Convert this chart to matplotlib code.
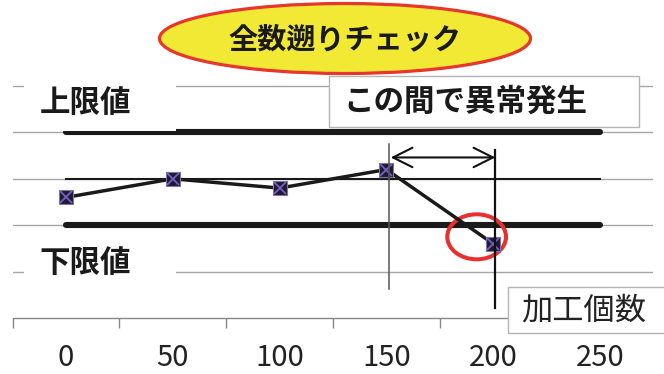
import matplotlib
matplotlib.use("Agg")
import matplotlib.pyplot as plt
from matplotlib.patches import Ellipse, Rectangle
import numpy as np

plt.rcParams['font.family'] = ['Noto Sans CJK JP', 'DejaVu Sans']

# Lot counts on the category axis and the measured values per lot
categories = ['0', '50', '100', '150', '200', '250']
measured = [2.6, 3.0, 2.8, 3.2, 1.6]
upper_limit = [4, 4, 4, 4, 4, 4]
center_line = [3, 3, 3, 3, 3, 3]
lower_limit = [2, 2, 2, 2, 2, 2]
grid_levels = [1, 2, 3, 4, 5]

W, H = 664, 374
fig = plt.figure(figsize=(W / 100, H / 100), dpi=100)


def fx(px):
    return px / W


def fy(py):
    return 1 - py / H


# plot area: value 0 sits on the axis line, one unit = 46.4 px
unit = 46.4
y_top = 5.5
ax = fig.add_axes([fx(12.6), fy(318), fx(653.4) - fx(12.6), unit * y_top / H])
x = np.arange(len(categories))
ax.set_xlim(-0.5, len(categories) - 0.5)
ax.set_ylim(0, y_top)

ax.set_yticks(grid_levels)
ax.yaxis.grid(True, color='#a6a6a6', lw=1.0)
ax.set_axisbelow(True)
ax.tick_params(axis='y', left=False, labelleft=False)

ax.set_xticks(x)
ax.set_xticklabels(categories, fontsize=21, color='#222222')
ax.set_xticks(np.arange(-0.5, len(categories)), minor=True)
ax.tick_params(axis='x', which='major', length=0, pad=18)
ax.tick_params(axis='x', which='minor', length=7.5, width=1.0, color='#888888')
for s in ['top', 'right', 'left']:
    ax.spines[s].set_visible(False)
ax.spines['bottom'].set_color('#888888')
ax.spines['bottom'].set_linewidth(1.0)

# control limits and centre line
ax.plot(x, upper_limit, color='#1a1a1a', lw=4.4, solid_capstyle='round', zorder=2)
ax.plot(x, lower_limit, color='#1a1a1a', lw=4.4, solid_capstyle='round', zorder=2)
ax.plot(x, center_line, color='#1a1a1a', lw=1.5, zorder=2)

# red ring around the out-of-limit lot
ring = Ellipse((3.845, 1.75), 0.55, 0.97, fill=False, ec='#e8312f', lw=2.9, zorder=3)
ax.add_patch(ring)

# measured series
xm = x[:len(measured)]
ax.plot(xm, measured, color='#1a1a1a', lw=2.5, zorder=4)
ax.plot(xm, measured, ls='none', marker='s', ms=10, mfc='#1f1a30', mec='#7e76a0',
        mew=0.8, zorder=5)
ax.plot(xm, measured, ls='none', marker='x', ms=8.5, color='#7360c8', mew=1.3, zorder=6)

# span where the abnormality appeared
ax.plot([3.02, 3.02], [0.625, 3.75], color='#555555', lw=1.1, zorder=6)
ax.plot([4.02, 4.02], [0.215, 3.62], color='#111111', lw=1.6, zorder=6)
ax.annotate('', xy=(4.02, 3.46), xytext=(3.04, 3.46),
            arrowprops=dict(arrowstyle='<->, head_length=1.4, head_width=0.7',
                            lw=1.5, color='#111111', shrinkA=0, shrinkB=0),
            zorder=7)


def box(x0, y0, x1, y1, ec='none'):
    r = Rectangle((fx(x0), fy(y1)), fx(x1) - fx(x0), fy(y0) - fy(y1),
                  transform=fig.transFigure, fc='white', ec=ec, lw=1.0, zorder=2)
    fig.add_artist(r)


# limit labels on white backgrounds
box(24, 79, 176, 131)
fig.text(fx(85), fy(103), '上限値', ha='center', va='center', fontsize=22,
         fontweight='bold', color='#1a1a1a', zorder=3)
box(24, 243, 176, 290)
fig.text(fx(85), fy(263), '下限値', ha='center', va='center', fontsize=22,
         fontweight='bold', color='#1a1a1a', zorder=3)

# callout boxes
box(329, 76, 639, 127, ec='#b4b4b4')
fig.text(fx(465), fy(101.5), 'この間で異常発生', ha='center', va='center', fontsize=22,
         fontweight='bold', color='#1a1a1a', zorder=3)
box(508, 287, 680, 333, ec='#b4b4b4')
fig.text(fx(584), fy(311), '加工個数', ha='center', va='center', fontsize=22.5,
         color='#222222', zorder=3)

# title badge
badge = Ellipse((fx(345), fy(38.5)), 371 / W, 70 / H, transform=fig.transFigure,
                fc='#f2e934', ec='#e8352d', lw=2.3, zorder=2)
fig.add_artist(badge)
fig.text(fx(345), fy(39), '全数遡りチェック', ha='center', va='center', fontsize=21,
         fontweight='bold', color='#1a1a1a', zorder=3)

fig.savefig('out.png', dpi=100)
